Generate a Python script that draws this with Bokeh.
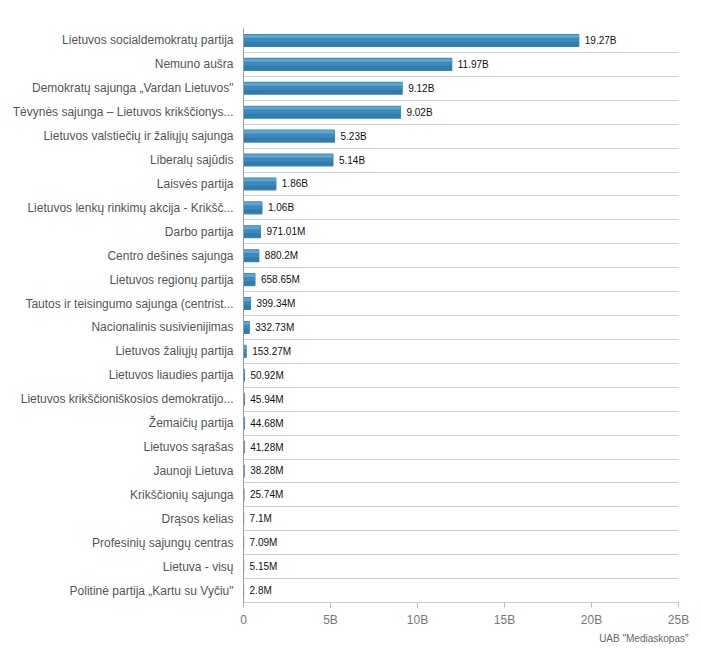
from bokeh.plotting import figure
from bokeh.models import ColumnDataSource, FixedTicker, CustomJSTickFormatter, Range1d, Title
from bokeh.core.properties import value
from bokeh.embed import file_html
from bokeh.resources import INLINE

categories = [
    "Lietuvos socialdemokratų partija",
    "Nemuno aušra",
    "Demokratų sajunga „Vardan Lietuvos\"",
    "Tėvynės sajunga – Lietuvos krikščionys...",
    "Lietuvos valstiečių ir žaliųjų sajunga",
    "Liberalų sajūdis",
    "Laisvės partija",
    "Lietuvos lenkų rinkimų akcija - Krikšč...",
    "Darbo partija",
    "Centro dešinės sajunga",
    "Lietuvos regionų partija",
    "Tautos ir teisingumo sajunga (centrist...",
    "Nacionalinis susivienijimas",
    "Lietuvos žaliųjų partija",
    "Lietuvos liaudies partija",
    "Lietuvos krikščioniškosios demokratijo...",
    "Žemaičių partija",
    "Lietuvos sąrašas",
    "Jaunoji Lietuva",
    "Krikščionių sajunga",
    "Drąsos kelias",
    "Profesinių sajungų centras",
    "Lietuva - visų",
    "Politinė partija „Kartu su Vyčiu\"",
]
values = [
    19.27e9, 11.97e9, 9.12e9, 9.02e9, 5.23e9, 5.14e9, 1.86e9, 1.06e9,
    971.01e6, 880.2e6, 658.65e6, 399.34e6, 332.73e6, 153.27e6, 50.92e6,
    45.94e6, 44.68e6, 41.28e6, 38.28e6, 25.74e6, 7.1e6, 7.09e6, 5.15e6, 2.8e6,
]
value_labels = [
    "19.27B", "11.97B", "9.12B", "9.02B", "5.23B", "5.14B", "1.86B", "1.06B",
    "971.01M", "880.2M", "658.65M", "399.34M", "332.73M", "153.27M", "50.92M",
    "45.94M", "44.68M", "41.28M", "38.28M", "25.74M", "7.1M", "7.09M", "5.15M", "2.8M",
]
x_ticks = [0, 5e9, 10e9, 15e9, 20e9, 25e9]

n = len(categories)
rows = [n - i - 0.5 for i in range(n)]

src = ColumnDataSource(dict(y=rows, v=values, lab=value_labels,
                            y_hi=[r + 0.17 for r in rows],
                            y_lo=[r - 0.15 for r in rows]))

FONT = "Liberation Sans"

p = figure(frame_width=435, frame_height=574, output_backend="svg", toolbar_location=None,
           x_range=Range1d(0, 25e9), y_range=Range1d(0, n),
           min_border_left=243, min_border_right=14, min_border_top=28, min_border_bottom=6)

p.outline_line_color = None
p.background_fill_color = "white"
p.border_fill_color = "white"

# bars: base + highlight + shadow
p.hbar(y="y", right="v", left=0, height=0.5, source=src,
       fill_color="#3a8abd", line_color="#3a8abd", line_width=1.2)
p.hbar(y="y_hi", right="v", left=0, height=0.12, source=src,
       fill_color="#74b0d8", line_color=None, fill_alpha=0.7)
p.hbar(y="y_lo", right="v", left=0, height=0.18, source=src,
       fill_color="#2c72a2", line_color=None, fill_alpha=0.6)

p.text(x="v", y="y", text="lab", source=src, x_offset=6, text_baseline="middle",
       text_align="left", text_font_size="10px", text_color="#111111",
       text_font=value(FONT))

# x axis
xa = p.xaxis[0]
xa.ticker = FixedTicker(ticks=x_ticks)
xa.formatter = CustomJSTickFormatter(code="return tick == 0 ? '0' : (tick / 1e9) + 'B';")
xa.axis_line_color = "#cccccc"
xa.major_tick_line_color = "#bbbbbb"
xa.major_tick_out = 5
xa.major_tick_in = 0
xa.minor_tick_line_color = None
xa.major_label_text_font = FONT
xa.major_label_text_font_size = "12px"
xa.major_label_text_color = "#777777"
xa.major_label_standoff = 5

# y axis
ya = p.yaxis[0]
ya.ticker = FixedTicker(ticks=rows)
ya.formatter = CustomJSTickFormatter(args=dict(labels=categories),
                                     code="return labels[labels.length - 1 - Math.floor(tick)];")
ya.axis_line_color = "#999999"
ya.major_tick_line_color = None
ya.minor_tick_line_color = None
ya.major_label_text_font = FONT
ya.major_label_text_font_size = "12px"
ya.major_label_text_color = "#555555"
ya.major_label_standoff = 4

p.xgrid.grid_line_color = None
p.ygrid.ticker = FixedTicker(ticks=list(range(n + 1)))
p.ygrid.grid_line_color = "#cfcfcf"

p.add_layout(Title(text='UAB "Mediaskopas"', align="right", text_font_size="10px",
                   text_font=FONT, text_font_style="normal", text_color="#666666",
                   offset=-10, standoff=2), "below")

open("out.html", "w").write(file_html(p, INLINE))
